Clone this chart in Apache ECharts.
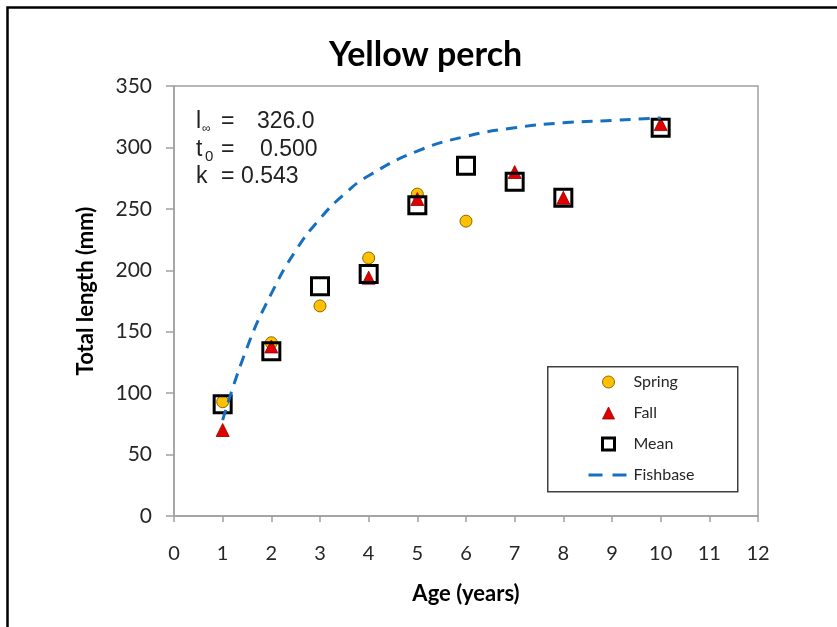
<!DOCTYPE html>
<html>
<head>
<meta charset="utf-8">
<script src="https://cdn.jsdelivr.net/npm/echarts@6/dist/echarts.min.js"></script>
<style>
html,body{margin:0;padding:0;background:#fff;}
#chart{width:837px;height:627px;}
</style>
</head>
<body>
<div id="chart"></div>
<script>
// Data
const titleText = 'Yellow perch';
const xAxisName = 'Age (years)';
const yAxisName = 'Total length (mm)';
const xTicks = [0, 12, 1];      // min, max, interval
const yTicks = [0, 350, 50];    // min, max, interval

const springAges = [1, 2, 3, 4, 5, 6];
const springLengths = [93, 141, 171, 210, 262, 240];

const fallAges = [1, 2, 4, 5, 7, 8, 10];
const fallLengths = [70, 138, 194, 258, 280, 259, 319];

const meanAges = [1, 2, 3, 4, 5, 6, 7, 8, 10];
const meanLengths = [91, 134, 187, 197, 253, 285, 272, 259, 316];

const fishbaseAges = [1, 1.5, 2, 2.5, 3, 3.5, 4, 5, 6, 7, 8, 9, 10];
const fishbaseLengths = [78, 137, 181, 216, 242, 262, 277, 297, 309, 316, 320, 322, 324];

const paramLines = [
  ['l', '\u221E', '=', '326.0'],
  ['t', '0', '=', '0.500'],
  ['k', '', '=', '0.543']
];

const zip = (a, b) => a.map((v, i) => [v, b[i]]);

const chart = echarts.init(document.getElementById('chart'), null, {renderer: 'canvas'});

const baseFont = 'Lato, "Open Sans", sans-serif';
const annFont = '"Liberation Sans", Arial, sans-serif';

// annotation graphic elements
const annY = [123, 151, 178];
const annGraphics = [];
paramLines.forEach((ln, i) => {
  annGraphics.push({type: 'text', left: 196, top: annY[i] - 13,
    style: {text: ln[0], font: '23px ' + annFont, fill: '#222'}});
  if (ln[1]) {
    annGraphics.push({type: 'text', left: i === 0 ? 202 : 205, top: annY[i] - (i === 0 ? 0 : 2),
      style: {text: ln[1], font: (i === 0 ? '12px ' : '15px ') + annFont, fill: '#222'}});
  }
  annGraphics.push({type: 'text', left: 221, top: annY[i] - 13,
    style: {text: ln[2], font: '23px ' + annFont, fill: '#222'}});
  annGraphics.push({type: 'text', left: (i === 0 ? 257 : (i === 1 ? 260 : 241)), top: annY[i] - 13,
    style: {text: ln[3], font: '23px ' + annFont, fill: '#222'}});
});

const legendText = {fontFamily: baseFont, fontSize: 16, color: '#262626', lineHeight: 16};

const option = {
  backgroundColor: '#ffffff',
  animation: false,
  title: {
    text: titleText,
    left: 329,
    top: 38,
    padding: 0,
    textStyle: {fontFamily: baseFont, fontSize: 34, fontWeight: 'bold', color: '#000'}
  },
  grid: {
    left: 174, right: 79, top: 86, bottom: 111,
    show: true, borderColor: '#a0a0a0', borderWidth: 1.5
  },
  xAxis: {
    type: 'value',
    min: xTicks[0], max: xTicks[1], interval: xTicks[2],
    name: xAxisName,
    nameLocation: 'middle',
    nameGap: 67,
    nameTextStyle: {fontFamily: baseFont, fontSize: 22, fontWeight: 'bold', color: '#000'},
    axisLine: {show: true, lineStyle: {color: '#a0a0a0', width: 1.5}},
    axisTick: {show: true, length: 6, lineStyle: {color: '#a0a0a0', width: 1.5}},
    axisLabel: {margin: 28, fontFamily: baseFont, fontSize: 20, color: '#262626'},
    splitLine: {show: false}
  },
  yAxis: {
    type: 'value',
    min: yTicks[0], max: yTicks[1], interval: yTicks[2],
    axisLine: {show: true, lineStyle: {color: '#a0a0a0', width: 1.5}},
    axisTick: {show: true, length: 8, lineStyle: {color: '#a0a0a0', width: 1.5}},
    axisLabel: {margin: 22, fontFamily: baseFont, fontSize: 21, color: '#262626'},
    splitLine: {show: false}
  },
  legend: [
    {
      orient: 'vertical',
      left: 601, top: 374, padding: 0,
      itemWidth: 12, itemHeight: 12, itemGap: 15,
      textStyle: Object.assign({padding: [0, 0, 0, 14]}, legendText),
      data: [
        {name: 'Spring', itemStyle: {borderWidth: 1}},
        {name: 'Fall', itemStyle: {borderWidth: 0.8}},
        {name: 'Mean', itemStyle: {borderWidth: 3, borderColor: '#000'}}
      ]
    },
    {
      orient: 'vertical',
      left: 587, top: 467, padding: 0,
      itemWidth: 38, itemHeight: 12,
      itemStyle: {opacity: 0},
      lineStyle: {width: 3, type: [14, 10]},
      textStyle: Object.assign({padding: [0, 0, 0, 2]}, legendText),
      data: ['Fishbase']
    }
  ],
  series: [
    {
      name: 'Spring', type: 'scatter', symbol: 'circle', symbolSize: 12,
      itemStyle: {color: '#FFC000', borderColor: '#8a6a00', borderWidth: 1, opacity: 1},
      data: zip(springAges, springLengths), z: 2
    },
    {
      name: 'Fall', type: 'scatter', symbol: 'triangle', symbolSize: 13,
      itemStyle: {color: '#E00000', borderColor: '#900000', borderWidth: 0.8, opacity: 1},
      data: zip(fallAges, fallLengths), z: 3
    },
    {
      name: 'Mean', type: 'scatter', symbol: 'rect', symbolSize: 17,
      itemStyle: {color: 'rgba(255,255,255,0)', borderColor: '#000', borderWidth: 3, opacity: 1},
      data: zip(meanAges, meanLengths), z: 4
    },
    {
      name: 'Fishbase', type: 'line', symbol: 'none', smooth: true,
      lineStyle: {color: '#1670C0', width: 3, type: [11, 8]},
      itemStyle: {color: '#1670C0'},
      data: zip(fishbaseAges, fishbaseLengths), z: 5
    }
  ],
  graphic: [
    {type: 'rect', left: 5, top: 5, z: 100, silent: true,
      shape: {width: 900, height: 700},
      style: {fill: 'none', stroke: '#000', lineWidth: 2.5}},
    {type: 'rect', left: 547, top: 366, z: 1, silent: true,
      shape: {width: 190, height: 125},
      style: {fill: '#fff', stroke: '#404040', lineWidth: 1.5}},
    {type: 'text', x: 86, y: 291, rotation: Math.PI / 2, silent: true,
      style: {text: yAxisName, font: 'bold 22px ' + baseFont, fill: '#000',
        textAlign: 'center', textVerticalAlign: 'middle'}}
  ].concat(annGraphics)
};

chart.setOption(option);
</script>
</body>
</html>
